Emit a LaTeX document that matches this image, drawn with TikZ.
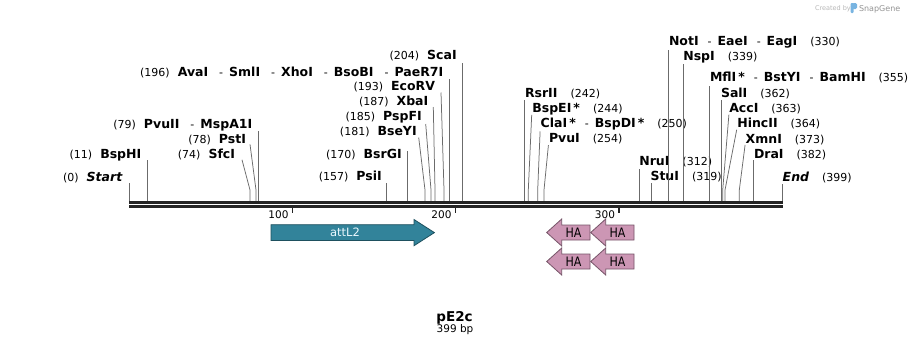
\documentclass[tikz,border=0pt]{standalone}
\usepackage{fontspec}
\setmainfont{DejaVu Sans}
\usetikzlibrary{calc,positioning}

\definecolor{attlteal}{RGB}{50,131,154}
\definecolor{attledge}{RGB}{30,80,94}
\definecolor{hapink}{RGB}{204,150,180}
\definecolor{haedge}{RGB}{118,84,104}
\definecolor{seqgray}{RGB}{36,36,36}
\definecolor{snapblue}{RGB}{120,180,225}

\newcommand\nm[1]{{\fontsize{12.5}{15}\selectfont\bfseries #1}}
\newcommand\ps[1]{{\fontsize{11}{13}\selectfont #1}}
\newcommand\dsh{\hspace{9pt}\ps{-}\hspace{6pt}}
\newcommand\ldsh{\hspace{11pt}\ps{-}\hspace{6pt}}
\newcommand\lgap{\hspace{8pt}}
\newcommand\rgap{\hspace{13pt}}

\tikzset{
  cut/.style={inner sep=0pt, outer sep=0pt},
  left cut/.style={cut, anchor=base east},
  right cut/.style={cut, anchor=base west},
  site/.style={draw=black!58, line width=0.75pt},
  seqline/.style={draw=seqgray, line width=2.6pt},
  tick/.style={draw=seqgray, line width=1.5pt},
  attl/.style={fill=attlteal, draw=attledge, line width=0.8pt},
  ha/.style={fill=hapink, draw=haedge, line width=0.8pt},
  featlabel/.style={inner sep=0pt, font=\fontsize{11.5}{13}\selectfont}
}

\begin{document}
\begin{tikzpicture}[x=1pt, y=-1pt]
\useasboundingbox[fill=white] (0,0) rectangle (912,346);

% watermark
\node[cut, anchor=base west, text=black!28, font=\fontsize{6.5}{8}\selectfont] (created) at (815,10) {Created by};
\fill[snapblue, rounded corners=1pt] (850.5,3) rectangle (853.5,13);
\fill[snapblue, rounded corners=1.5pt] (852,3) rectangle (857,9);
\node[cut, anchor=base west, text=black!42, font=\fontsize{8}{9}\selectfont] (snapgene) at (859,11) {SnapGene};

% cut positions on the sequence
\coordinate (s0) at (129.5,201);
\coordinate (s11) at (147.3,201);
\coordinate (s74) at (250,201);
\coordinate (s78) at (256,201);
\coordinate (s79) at (258.3,201);
\coordinate (s157) at (386.7,201);
\coordinate (s170) at (407.3,201);
\coordinate (s181) at (425,201);
\coordinate (s185) at (431,201);
\coordinate (s187) at (435,201);
\coordinate (s193) at (444,201);
\coordinate (s196) at (449,201);
\coordinate (s204) at (462.3,201);
\coordinate (s242) at (524.3,201);
\coordinate (s244) at (528.3,201);
\coordinate (s250) at (537.7,201);
\coordinate (s254) at (544,201);
\coordinate (s312) at (639.3,201);
\coordinate (s319) at (651,201);
\coordinate (s330) at (668.7,201);
\coordinate (s339) at (683.3,201);
\coordinate (s355) at (709.3,201);
\coordinate (s362) at (721.7,201);
\coordinate (s363) at (722.7,201);
\coordinate (s364) at (725,201);
\coordinate (s373) at (739.3,201);
\coordinate (s382) at (753.7,201);
\coordinate (s399) at (782.7,201);

% enzymes, left half
\node[left cut] (Start) at (122.3,181) {\ps{(0)}\lgap\nm{\itshape Start}};
\node[left cut] (BspHI) at (141.3,158.3) {\ps{(11)}\lgap\nm{BspHI}};
\node[left cut] (SfcI) at (235,158.3) {\ps{(74)}\lgap\nm{SfcI}};
\node[left cut] (PstI) at (246,143.3) {\ps{(78)}\lgap\nm{PstI}};
\node[left cut] (PvuII) at (252.3,128) {\ps{(79)}\lgap\nm{PvuII}\ldsh\nm{MspA1I}};
\node[left cut] (AvaI) at (443.3,76) {\ps{(196)}\lgap\nm{AvaI}\ldsh\nm{SmlI}\ldsh\nm{XhoI}\ldsh\nm{BsoBI}\ldsh\nm{PaeR7I}};
\node[left cut] (ScaI) at (456.7,59.5) {\ps{(204)}\lgap\nm{ScaI}};
\node[left cut] (EcoRV) at (435,90) {\ps{(193)}\lgap\nm{EcoRV}};
\node[left cut] (XbaI) at (428.3,105) {\ps{(187)}\lgap\nm{XbaI}};
\node[left cut] (PspFI) at (421.7,120) {\ps{(185)}\lgap\nm{PspFI}};
\node[left cut] (BseYI) at (416.7,135) {\ps{(181)}\lgap\nm{BseYI}};
\node[left cut] (BsrGI) at (401.7,158.3) {\ps{(170)}\lgap\nm{BsrGI}};
\node[left cut] (PsiI) at (381.7,180) {\ps{(157)}\lgap\nm{PsiI}};

% enzymes, right half
\node[right cut] (RsrII) at (525,97.3) {\nm{RsrII}\rgap\ps{(242)}};
\node[right cut] (BspEI) at (532.3,112.3) {\nm{BspEI\,*}\rgap\ps{(244)}};
\node[right cut] (ClaI) at (540.7,127.3) {\nm{ClaI\,*}\dsh\nm{BspDI\,*}\rgap\ps{(250)}};
\node[right cut] (PvuI) at (549,142.7) {\nm{PvuI}\rgap\ps{(254)}};
\node[right cut] (NruI) at (639.3,165.5) {\nm{NruI}\rgap\ps{(312)}};
\node[right cut] (StuI) at (650.5,180.7) {\nm{StuI}\rgap\ps{(319)}};
\node[right cut] (NotI) at (669,45.7) {\nm{NotI}\dsh\nm{EaeI}\dsh\nm{EagI}\rgap\ps{(330)}};
\node[right cut] (NspI) at (683.3,60.7) {\nm{NspI}\rgap\ps{(339)}};
\node[right cut] (MflI) at (710,81.7) {\nm{MflI\,*}\dsh\nm{BstYI}\dsh\nm{BamHI}\rgap\ps{(355)}};
\node[right cut] (SalI) at (721,97.7) {\nm{SalI}\rgap\ps{(362)}};
\node[right cut] (AccI) at (729.3,112.7) {\nm{AccI}\rgap\ps{(363)}};
\node[right cut] (HincII) at (737.3,127.7) {\nm{HincII}\rgap\ps{(364)}};
\node[right cut] (XmnI) at (745.7,143.3) {\nm{XmnI}\rgap\ps{(373)}};
\node[right cut] (DraI) at (754,158.3) {\nm{DraI}\rgap\ps{(382)}};
\node[right cut] (End) at (782.7,181.5) {\nm{\itshape End}\rgap\ps{(399)}};

% straight connectors
\draw[site] (s0) -- ($(s0 |- Start.base)+(0,2)$);
\draw[site] (s11) -- ($(s11 |- BspHI.base)+(0,2)$);
\draw[site] (s79) -- ($(s79 |- PvuII.base)+(0,2.5)$);
\draw[site] (s157) -- ($(s157 |- PsiI.base)+(0,2.5)$);
\draw[site] (s170) -- ($(s170 |- BsrGI.base)+(0,-7)$);
\draw[site] (s196) -- ($(s196 |- AvaI.base)+(0,2.5)$);
\draw[site] (s204) -- ($(s204 |- ScaI.base)+(0,3)$);
\draw[site] (s242) -- ($(s242 |- RsrII.base)+(0,3)$);
\draw[site] (s312) -- ($(s312 |- NruI.base)+(0,3)$);
\draw[site] (s319) -- ($(s319 |- StuI.base)+(0,2)$);
\draw[site] (s330) -- ($(s330 |- NotI.base)+(0,4)$);
\draw[site] (s339) -- ($(s339 |- NspI.base)+(0,3)$);
\draw[site] (s355) -- ($(s355 |- MflI.base)+(0,4)$);
\draw[site] (s362) -- ($(s362 |- SalI.base)+(0,2.5)$);
\draw[site] (s382) -- ($(s382 |- DraI.base)+(0,2)$);
\draw[site] (s399) -- ($(s399 |- End.base)+(0,2)$);

% bent connectors
\draw[site] ($(SfcI.base east)+(7,1.5)$) -- ($(s74)+(0,-11)$) -- (s74);
\draw[site] ($(PstI.base east)+(4,1)$) -- ($(s78)+(0,-11)$) -- (s78);
\draw[site] ($(BseYI.base east)+(2,2.5)$) -- ($(s181)+(0,-11)$) -- (s181);
\draw[site] ($(PspFI.base east)+(4,4)$) -- ($(s185)+(0,-11)$) -- (s185);
\draw[site] ($(XbaI.base east)+(5,2)$) -- ($(s187)+(0,-11)$) -- (s187);
\draw[site] ($(EcoRV.base east)+(6,2.5)$) -- ($(s193)+(0,-11)$) -- (s193);
\draw[site] ($(BspEI.base west)+(-0.6,2.5)$) -- ($(s244)+(0,-11)$) -- (s244);
\draw[site] ($(ClaI.base west)+(-0.6,4)$) -- ($(s250)+(0,-11)$) -- (s250);
\draw[site] ($(PvuI.base west)+(-0.6,2.5)$) -- ($(s254)+(0,-11)$) -- (s254);
\draw[site] ($(AccI.base west)+(-0.4,2)$) -- ($(s363)+(0,-11)$) -- (s363);
\draw[site] ($(HincII.base west)+(-0.6,2)$) -- ($(s364)+(0,-11)$) -- (s364);
\draw[site] ($(XmnI.base west)+(-0.6,1.5)$) -- ($(s373)+(0,-11)$) -- (s373);

% sequence
\coordinate (seqL) at (129.3,202.2);
\coordinate (seqR) at (782.7,202.2);
\draw[seqline] (seqL) -- (seqR);
\draw[seqline] ($(seqL)+(0,4)$) -- ($(seqR)+(0,4)$);

% ruler
\coordinate (t100) at (292.5,207);
\coordinate (t200) at (455.5,207);
\coordinate (t300) at (619,207);
\draw[tick] (t100) -- ++(0,6);
\draw[tick] (t200) -- ++(0,6);
\draw[tick] (t300) -- ++(0,6);
\node[cut, anchor=base east, font=\fontsize{10.5}{12}\selectfont] (n100) at ($(t100)+(-4,11)$) {100};
\node[cut, anchor=base east, font=\fontsize{10.5}{12}\selectfont] (n200) at ($(t200)+(-4,11)$) {200};
\node[cut, anchor=base east, font=\fontsize{10.5}{12}\selectfont] (n300) at ($(t300)+(-4,11)$) {300};

% features
\draw[attl] (271,224.7) -- (414,224.7) -- (414,219.5) -- (434.4,232.6) -- (414,245.7) -- (414,240.5) -- (271,240.5) -- cycle;
\node[featlabel, text=white!92!cyan] (attL2) at (345,232.6) {attL2};

\draw[ha] (590,225) -- (561.7,225) -- (561.7,219) -- (546.7,232.5) -- (561.7,246) -- (561.7,240) -- (590,240) -- cycle;
\draw[ha, shift={(44,0)}] (590,225) -- (561.7,225) -- (561.7,219) -- (546.7,232.5) -- (561.7,246) -- (561.7,240) -- (590,240) -- cycle;
\draw[ha, shift={(0,29)}] (590,225) -- (561.7,225) -- (561.7,219) -- (546.7,232.5) -- (561.7,246) -- (561.7,240) -- (590,240) -- cycle;
\draw[ha, shift={(44,29)}] (590,225) -- (561.7,225) -- (561.7,219) -- (546.7,232.5) -- (561.7,246) -- (561.7,240) -- (590,240) -- cycle;
\node[featlabel, font=\fontsize{13}{15}\selectfont] (ha1) at (573.5,232.5) {\scalebox{0.85}[1]{HA}};
\node[featlabel, font=\fontsize{13}{15}\selectfont] (ha2) at (617.5,232.5) {\scalebox{0.85}[1]{HA}};
\node[featlabel, font=\fontsize{13}{15}\selectfont] (ha3) at (573.5,261.5) {\scalebox{0.85}[1]{HA}};
\node[featlabel, font=\fontsize{13}{15}\selectfont] (ha4) at (617.5,261.5) {\scalebox{0.85}[1]{HA}};

% title
\node[cut, anchor=base, font=\fontsize{13.5}{15}\selectfont\bfseries] (pname) at (454.5,321) {pE2c};
\node[cut, anchor=base, font=\fontsize{10.5}{12}\selectfont] (plen) at (455,332.3) {399 bp};
\end{tikzpicture}
\end{document}
